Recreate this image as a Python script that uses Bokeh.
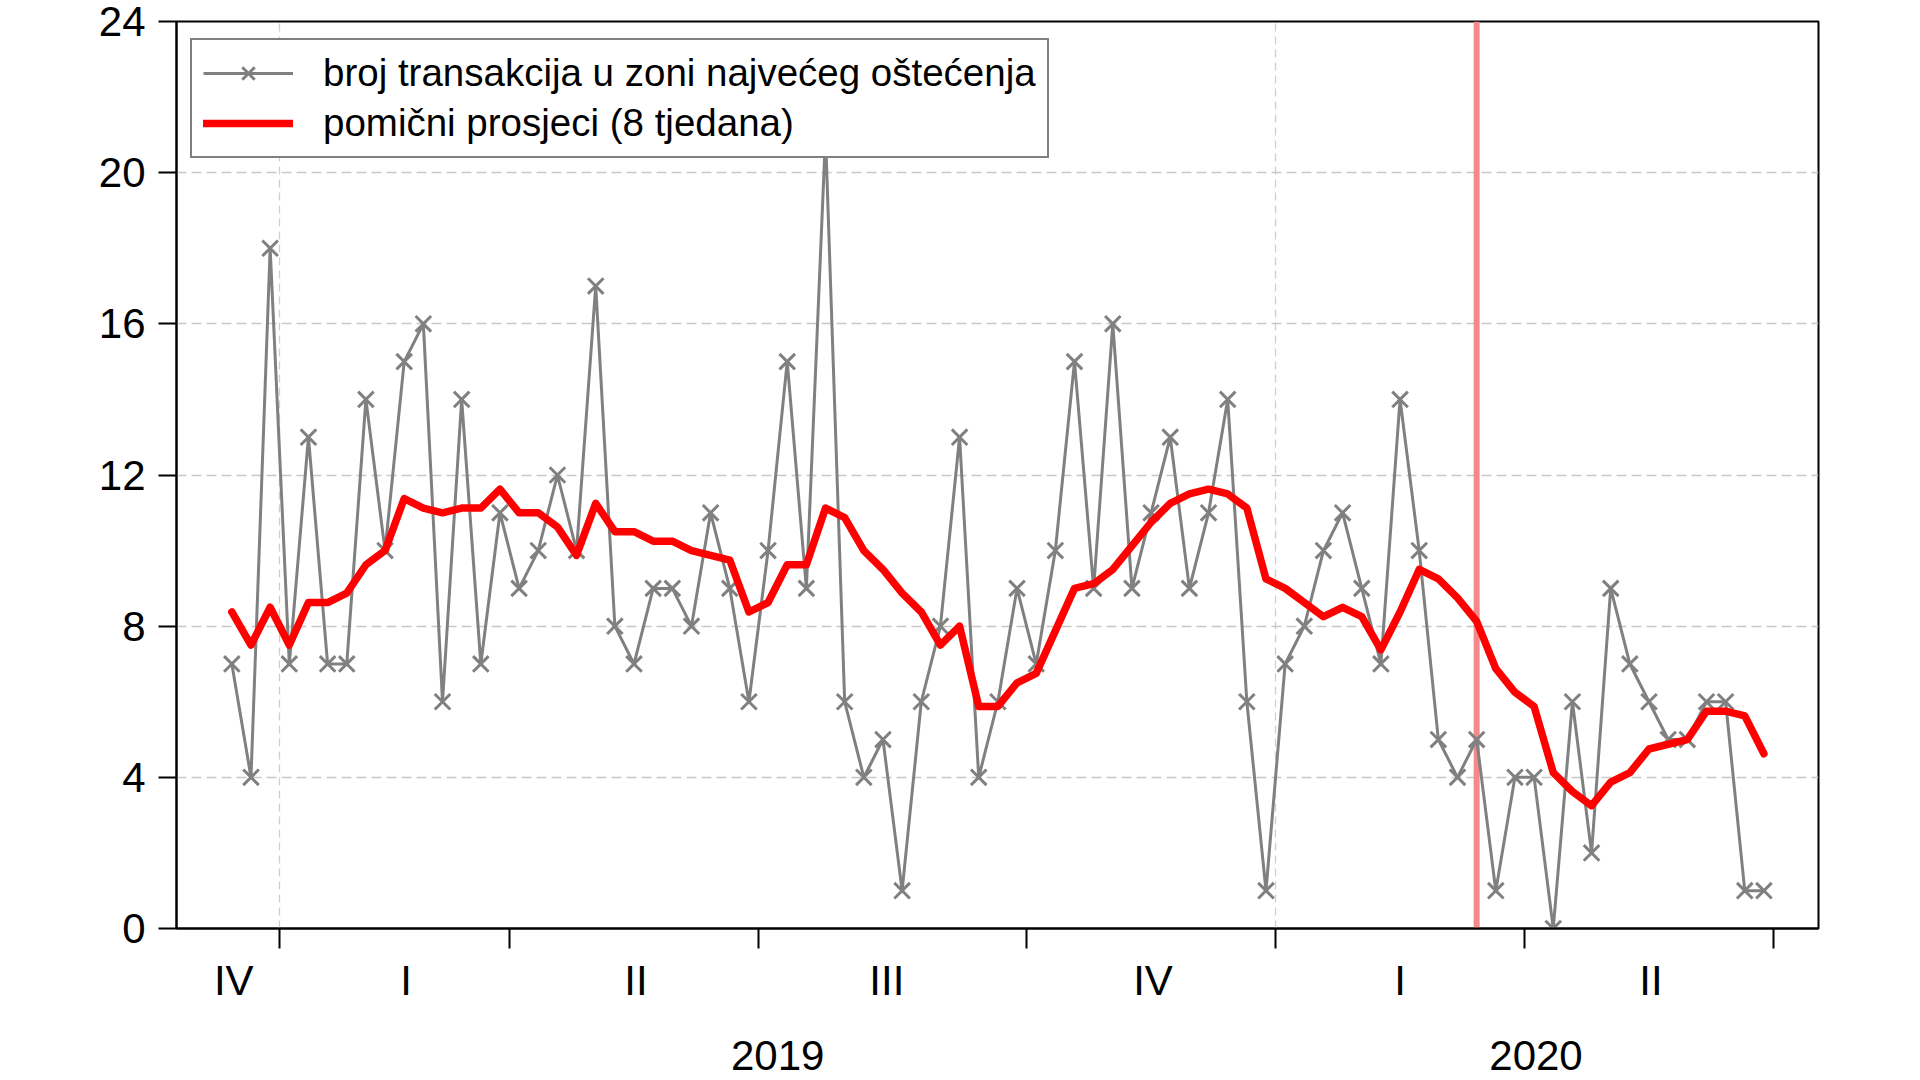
from bokeh.plotting import figure
from bokeh.models import Range1d, FixedTicker, Span, Legend, LegendItem, LinearAxis
from bokeh.embed import file_html
from bokeh.resources import INLINE

# weekly number of transactions in the zone of greatest damage
transactions = [7, 4, 18, 7, 13, 7, 7, 14, 10, 15,
                16, 6, 14, 7, 11, 9, 10, 12, 10, 17,
                8, 7, 9, 9, 8, 11, 9, 6, 10, 15,
                9, 21, 6, 4, 5, 1, 6, 8, 13, 4,
                6, 9, 7, 10, 15, 9, 16, 9, 11, 13,
                9, 11, 14, 6, 1, 7, 8, 10, 11, 9,
                7, 14, 10, 5, 4, 5, 1, 4, 4, 0,
                6, 2, 9, 7, 6, 5, 5, 6, 6, 1, 1]

# 8-week moving average
moving_avg = [8.375, 7.5, 8.5, 7.5, 8.625, 8.625, 8.875, 9.625, 10.0, 11.375,
              11.125, 11.0, 11.125, 11.125, 11.625, 11.0, 11.0, 10.625, 9.875, 11.25,
              10.5, 10.5, 10.25, 10.25, 10.0, 9.875, 9.75, 8.375, 8.625, 9.625,
              9.625, 11.125, 10.875, 10.0, 9.5, 8.875, 8.375, 7.5, 8.0, 5.875,
              5.875, 6.5, 6.75, 7.875, 9.0, 9.125, 9.5, 10.125, 10.75, 11.25,
              11.5, 11.625, 11.5, 11.125, 9.25, 9.0, 8.625, 8.25, 8.5, 8.25,
              7.375, 8.375, 9.5, 9.25, 8.75, 8.125, 6.875, 6.25, 5.875, 4.125,
              3.625, 3.25, 3.875, 4.125, 4.75, 4.875, 5.0, 5.75, 5.75, 5.625, 4.625]

week = list(range(len(transactions)))

# x axis (observation index): quarter boundaries, quarter labels, years
quarter_bounds = [2.5, 14.5, 27.5, 41.5, 54.5, 67.5, 80.5]
quarter_label_pos = [0.1, 9.1, 21.1, 34.2, 48.1, 61.0, 74.1]
quarter_labels = ["IV", "I", "II", "III", "IV", "I", "II"]
year_bounds = [2.5, 54.5]
year_label_pos = [28.5, 68.1]
year_labels = ["2019", "2020"]
marker_week = 65          # vertical marker line

y_ticks = [0, 4, 8, 12, 16, 20, 24]

legend_labels = ["broj transakcija u zoni najvećeg oštećenja",
                 "pomični prosjeci (8 tjedana)"]

FONT = "Liberation Sans"

p = figure(width=1920, height=1080, output_backend="svg", toolbar_location=None,
           x_range=Range1d(-2.89, 82.85), y_range=Range1d(0, 24),
           min_border_left=176, min_border_right=102, min_border_top=21,
           min_border_bottom=152)
p.background_fill_color = "white"
p.border_fill_color = "white"
p.outline_line_color = "black"
p.outline_line_width = 2

# grid
p.ygrid.ticker = FixedTicker(ticks=y_ticks)
p.ygrid.grid_line_color = "#C8C8C8"
p.ygrid.grid_line_width = 1.5
p.ygrid.grid_line_dash = "10 5"
p.xgrid.ticker = FixedTicker(ticks=year_bounds)
p.xgrid.grid_line_color = "#CFCFCF"
p.xgrid.grid_line_width = 1.3
p.xgrid.grid_line_dash = "8 5"

# y axis
ya = p.yaxis[0]
ya.ticker = FixedTicker(ticks=y_ticks)
ya.major_label_text_font = FONT
ya.major_label_text_font_size = "42px"
ya.major_label_text_color = "black"
ya.major_tick_out = 18
ya.major_tick_in = 0
ya.major_tick_line_width = 2
ya.major_tick_line_color = "black"
ya.minor_tick_line_color = None
ya.axis_line_width = 2
ya.axis_line_color = "black"
ya.major_label_standoff = 13

# x axis: quarter labels between boundary ticks
xa = p.xaxis[0]
xa.ticker = FixedTicker(ticks=quarter_label_pos, minor_ticks=quarter_bounds)
xa.major_label_overrides = {pos: lab for pos, lab in zip(quarter_label_pos, quarter_labels)}
xa.major_label_text_font = FONT
xa.major_label_text_font_size = "42px"
xa.major_label_text_color = "black"
xa.major_tick_line_color = None
xa.major_tick_out = 0
xa.major_tick_in = 0
xa.minor_tick_line_color = "black"
xa.minor_tick_line_width = 2
xa.minor_tick_out = 20
xa.minor_tick_in = 0
xa.axis_line_width = 2
xa.axis_line_color = "black"
xa.major_label_standoff = 8

# second row: years
year_axis = LinearAxis(ticker=FixedTicker(ticks=year_label_pos),
                       major_label_overrides={pos: lab for pos, lab in zip(year_label_pos, year_labels)},
                       major_label_text_font=FONT, major_label_text_font_size="42px",
                       major_label_text_color="black",
                       major_tick_line_color=None, minor_tick_line_color=None,
                       major_tick_out=0, major_tick_in=0, minor_tick_out=0, minor_tick_in=0,
                       axis_line_color=None, major_label_standoff=34)
p.add_layout(year_axis, "below")

# vertical marker
p.add_layout(Span(location=marker_week, dimension="height", line_color="#F38A8A",
                  line_width=6, level="underlay"))

gl = p.line(week, transactions, line_color="#808080", line_width=3, line_join="round")
gs = p.scatter(week, transactions, marker="x", size=22, line_color="#808080", line_width=3)
rl = p.line(week, moving_avg, line_color="#FF0000", line_width=7.5,
            line_join="round", line_cap="round")

legend = Legend(items=[LegendItem(label=legend_labels[0], renderers=[gl, gs]),
                       LegendItem(label=legend_labels[1], renderers=[rl])],
                location=(14, 770), padding=11, spacing=6,
                glyph_width=90, glyph_height=44, label_height=44, label_standoff=30,
                label_text_font=FONT, label_text_font_size="38.5px",
                label_text_color="black",
                border_line_color="black", border_line_width=2,
                background_fill_color="white", background_fill_alpha=1.0)
p.add_layout(legend)

open("out.html", "w").write(file_html(p, INLINE))
